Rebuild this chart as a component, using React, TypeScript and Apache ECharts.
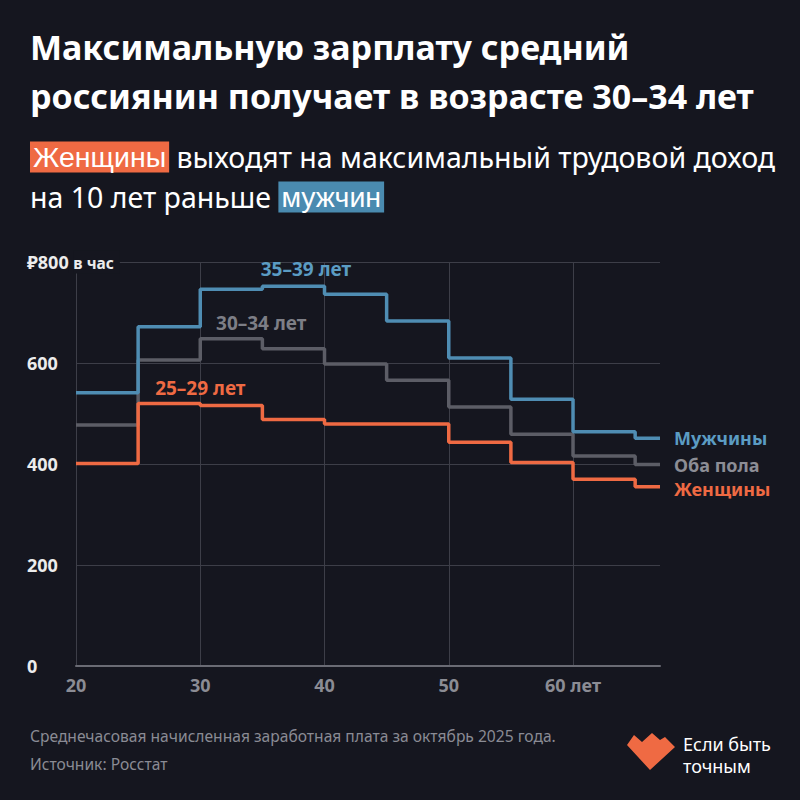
import React, { useEffect, useRef } from "react";
import * as echarts from "echarts";

const ages = [20, 25, 30, 35, 40, 45, 50, 55, 60, 65, 67];
const men = [541, 672, 746, 752, 736, 683, 610, 528, 464, 451, 451];
const both = [477, 606, 648, 628, 598, 566, 513, 459, 416, 399, 399];
const women = [401, 520, 516, 488, 479, 479, 443, 403, 370, 355, 355];

const seriesNames = ["Мужчины", "Оба пола", "Женщины"];
const peakLabels = ["35–39 лет", "30–34 лет", "25–29 лет"];
const peakCoords: [number, number][] = [
  [38.5, 786],
  [34.9, 680],
  [30.0, 551],
];

const BG = "#15161f";
const BLUE = "#4f8db3";
const BLUE_T = "#5b9cc3";
const GRAY = "#5c5d66";
const GRAY_T = "#8c8d95";
const ORANGE = "#ef6a43";

const FONT = "'Noto Sans', 'DejaVu Sans', sans-serif";

export default function App() {
  const ref = useRef<HTMLDivElement>(null);
  useEffect(() => {
    document.body.style.margin = "0";
    document.body.style.background = BG;
    const chart = echarts.init(ref.current!, undefined, { renderer: "svg" });
    const mk = (vals: number[]) => ages.map((a, i) => [a, vals[i]]);
    const lines = [
      { name: seriesNames[0], data: mk(men), color: BLUE, tcolor: BLUE_T, z: 4 },
      { name: seriesNames[1], data: mk(both), color: GRAY, tcolor: GRAY_T, z: 3 },
      { name: seriesNames[2], data: mk(women), color: ORANGE, tcolor: ORANGE, z: 5 },
    ];
    chart.setOption({
      animation: false,
      backgroundColor: BG,
      textStyle: { fontFamily: FONT },
      grid: { left: 76, right: 140, top: 262, bottom: 134 },
      xAxis: {
        type: "value",
        min: 20,
        max: 67,
        interval: 10,
        axisLine: { show: true, lineStyle: { color: "#6a6b74", width: 2 } },
        axisTick: { show: false },
        splitLine: { show: true, showMaxLine: false, lineStyle: { color: "#3d3e48", width: 1 } },
        axisLabel: {
          color: "#8b8c94",
          fontSize: 18,
          fontWeight: "bold",
          margin: 10,
          showMaxLabel: false,
          formatter: (v: number) => (v === 60 ? "60 лет" : String(v)),
        },
      },
      yAxis: {
        type: "value",
        min: 0,
        max: 800,
        interval: 200,
        axisLine: { show: false },
        axisTick: { show: false },
        splitLine: { show: true, lineStyle: { color: "#3d3e48", width: 1 } },
        axisLabel: {
          color: "#ececec",
          fontSize: 18,
          fontWeight: "bold",
          align: "left",
          margin: 49,
          formatter: (v: number) => (v === 800 ? "{a|₽800} {b|в час}" : String(v)),
          rich: {
            a: { fontSize: 18, fontWeight: "bold", color: "#ececec", backgroundColor: BG, padding: [2, 0, 2, 0] },
            b: { fontSize: 15.5, fontWeight: "bold", color: "#ececec", backgroundColor: BG, padding: [4, 6, 3, 0] },
          },
        },
      },
      series: lines.map((l, i) => ({
        type: "line",
        name: l.name,
        step: "end",
        data: l.data,
        z: l.z,
        symbol: "none",
        lineStyle: { color: l.color, width: 3.5 },
        itemStyle: { color: l.color },
        endLabel: {
          show: true,
          formatter: l.name,
          color: l.tcolor,
          fontSize: 18,
          fontWeight: "bold",
          distance: 14,
          offset: i === 2 ? [0, 2] : [0, 0],
        },
        markPoint: {
          symbol: "circle",
          symbolSize: 0,
          data: [
            {
              coord: peakCoords[i],
              label: {
                show: true,
                position: "inside",
                formatter: peakLabels[i],
                color: i === 1 ? "#7d7e86" : l.tcolor,
                fontSize: 19,
                fontWeight: "bold",
              },
            },
          ],
        },
      })),
      graphic: [
        {
          type: "text",
          left: 30,
          top: 22,
          style: {
            text: "Максимальную зарплату средний\nроссиянин получает в возрасте 30–34 лет",
            fill: "#ffffff",
            font: `bold 34px ${FONT}`,
            lineHeight: 49,
          },
        },
        {
          type: "text",
          left: 30,
          top: 137,
          style: {
            text: "{o|Женщины} выходят на максимальный трудовой доход\nна 10 лет раньше {b|мужчин}",
            fill: "#ffffff",
            font: `28.5px ${FONT}`,
            lineHeight: 40,
            rich: {
              o: { backgroundColor: ORANGE, color: "#ffffff", fontSize: 28.5, padding: [1, 3, 1, 3], lineHeight: 40 },
              b: { backgroundColor: "#4a8bb0", color: "#ffffff", fontSize: 28.5, padding: [1, 3, 1, 3], lineHeight: 40 },
            },
          },
        },
        {
          type: "text",
          left: 30,
          top: 722,
          style: {
            text: "Среднечасовая начисленная заработная плата за октябрь 2025 года.\nИсточник: Росстат",
            fill: "#8a8b94",
            font: `15.6px ${FONT}`,
            lineHeight: 28,
          },
        },
        {
          type: "polygon",
          shape: {
            points: [
              [627, 745],
              [634, 735],
              [642, 742],
              [652, 733],
              [660, 740],
              [665, 737],
              [675, 747],
              [650, 770],
            ],
          },
          style: { fill: ORANGE },
        },
        {
          type: "text",
          left: 683,
          top: 733,
          style: {
            text: "Если быть\nточным",
            fill: "#ffffff",
            font: `18px ${FONT}`,
            lineHeight: 22,
          },
        },
      ],
    });
    return () => chart.dispose();
  }, []);
  return <div ref={ref} style={{ position: "absolute", left: 0, top: 0, width: 800, height: 800 }} />;
}
